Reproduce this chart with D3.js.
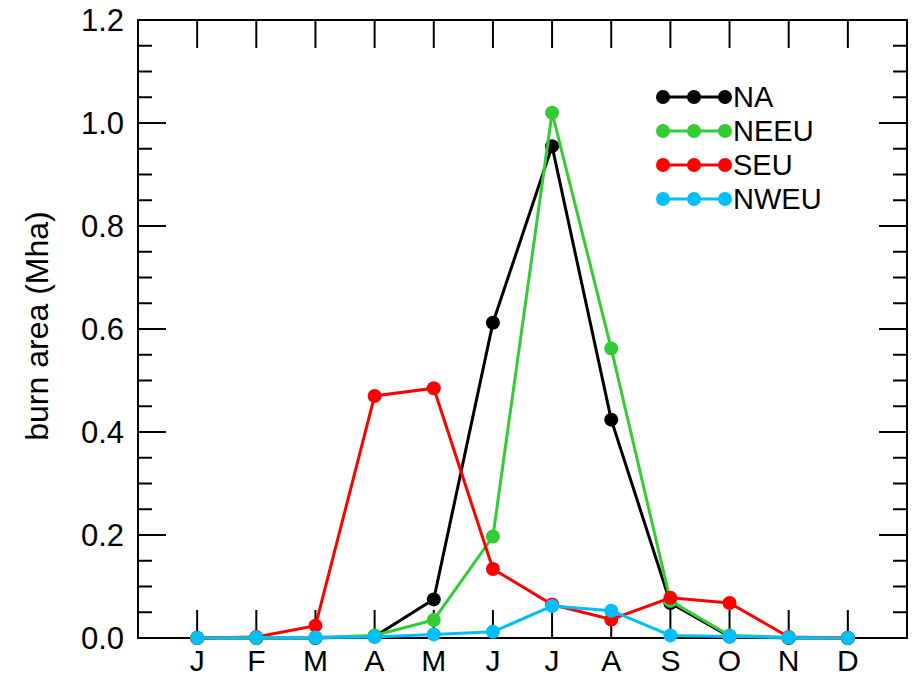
<!DOCTYPE html>
<html>
<head>
<meta charset="utf-8">
<script src="https://cdn.jsdelivr.net/npm/d3@7"></script>
<style>
  body { margin: 0; background: #fff; }
  svg { font-family: "Liberation Sans", Arial, sans-serif; }
</style>
</head>
<body>
<svg id="chart" width="914" height="678"></svg>
<script>
// meses y series (burn area, Mha)
const months = ["J", "F", "M", "A", "M", "J", "J", "A", "S", "O", "N", "D"];
const naVals   = [0, 0, 0, 0.003, 0.075, 0.612, 0.955, 0.424, 0.068, 0.003, 0, 0];
const neeuVals = [0, 0, 0.001, 0.005, 0.035, 0.197, 1.02, 0.562, 0.072, 0.005, 0.001, 0];
const seuVals  = [0, 0.002, 0.024, 0.47, 0.485, 0.134, 0.065, 0.036, 0.078, 0.068, 0.002, 0];
const nweuVals = [0, 0.001, 0.001, 0.002, 0.007, 0.012, 0.062, 0.053, 0.005, 0.003, 0.001, 0];
const seriesNames = ["NA", "NEEU", "SEU", "NWEU"];
const seriesColors = ["#000000", "#33cc33", "#ff0000", "#00bfff"];
const yMajor = [0, 0.2, 0.4, 0.6, 0.8, 1.0, 1.2];

const allSeries = [naVals, neeuVals, seuVals, nweuVals];

const svg = d3.select("#chart");
const mLeft = 138, mRight = 907, mTop = 20, mBottom = 638;

const x = d3.scaleLinear().domain([0, 13]).range([mLeft, mRight]);
const y = d3.scaleLinear().domain([0, 1.2]).range([mBottom, mTop]);

const monthIdx = d3.range(1, 13);
const yMinor = d3.range(0, 1.2001, 0.05);

// ejes con ticks hacia dentro
const axisG = svg.append("g").attr("stroke", "#000").attr("stroke-width", 2);
axisG.selectAll(".xb").data(monthIdx).enter().append("line")
  .attr("x1", d => x(d)).attr("x2", d => x(d))
  .attr("y1", mBottom).attr("y2", mBottom - 28);
axisG.selectAll(".xt").data(monthIdx).enter().append("line")
  .attr("x1", d => x(d)).attr("x2", d => x(d))
  .attr("y1", mTop).attr("y2", mTop + 28);

const isMajor = v => Math.abs(v * 5 - Math.round(v * 5)) < 1e-6;
axisG.selectAll(".yl").data(yMinor).enter().append("line")
  .attr("x1", mLeft).attr("x2", d => mLeft + (isMajor(d) ? 28 : 14))
  .attr("y1", d => y(d)).attr("y2", d => y(d));
axisG.selectAll(".yr").data(yMinor).enter().append("line")
  .attr("x1", mRight).attr("x2", d => mRight - (isMajor(d) ? 28 : 14))
  .attr("y1", d => y(d)).attr("y2", d => y(d));

svg.append("rect")
  .attr("x", mLeft).attr("y", mTop)
  .attr("width", mRight - mLeft).attr("height", mBottom - mTop)
  .attr("fill", "none").attr("stroke", "#000").attr("stroke-width", 2);

// etiquetas
svg.selectAll(".ylab").data(yMajor).enter().append("text")
  .attr("x", mLeft - 14).attr("y", d => y(d) + 11)
  .attr("text-anchor", "end").attr("font-size", 31)
  .text(d => d.toFixed(1));

svg.selectAll(".xlab").data(months).enter().append("text")
  .attr("x", (d, i) => x(i + 1)).attr("y", 671)
  .attr("text-anchor", "middle").attr("font-size", 30)
  .text(d => d);

svg.append("text")
  .attr("transform", `translate(48,326) rotate(-90)`)
  .attr("text-anchor", "middle").attr("font-size", 32)
  .text("burn area (Mha)");

// series
const line = d3.line().x((d, i) => x(i + 1)).y(d => y(d));
allSeries.forEach((vals, k) => {
  const g = svg.append("g");
  g.append("path").datum(vals)
    .attr("d", line).attr("fill", "none")
    .attr("stroke", seriesColors[k]).attr("stroke-width", 3);
  g.selectAll("circle").data(vals).enter().append("circle")
    .attr("cx", (d, i) => x(i + 1)).attr("cy", d => y(d))
    .attr("r", 7).attr("fill", seriesColors[k]);
});

// leyenda
const legendX = [663, 694, 725];
seriesNames.forEach((name, k) => {
  const ly = 97 + k * 34;
  const g = svg.append("g");
  g.append("line").attr("x1", legendX[0]).attr("x2", legendX[2])
    .attr("y1", ly).attr("y2", ly)
    .attr("stroke", seriesColors[k]).attr("stroke-width", 3);
  g.selectAll("circle").data(legendX).enter().append("circle")
    .attr("cx", d => d).attr("cy", ly).attr("r", 7)
    .attr("fill", seriesColors[k]);
  g.append("text").attr("x", 733).attr("y", ly + 10)
    .attr("font-size", 29).text(name);
});
</script>
</body>
</html>
